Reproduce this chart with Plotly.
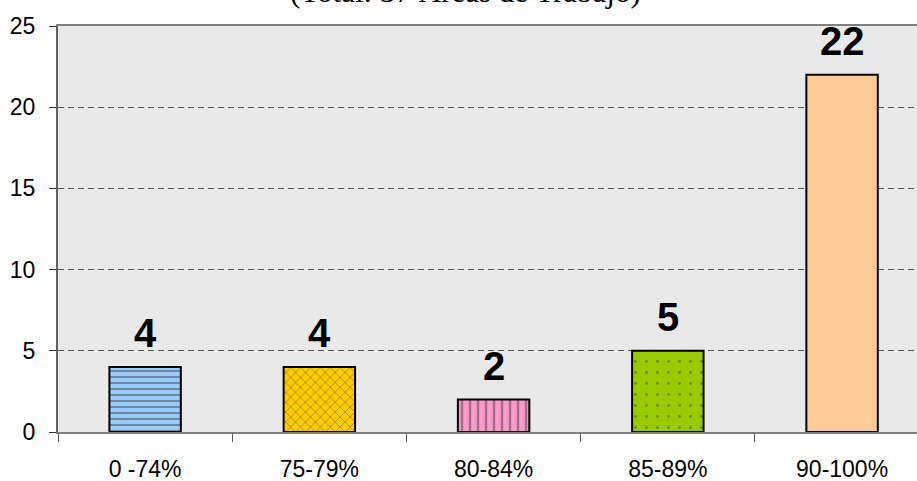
import plotly.graph_objects as go

categories = ["0 -74%", "75-79%", "80-84%", "85-89%", "90-100%"]
values = [4, 4, 2, 5, 22]
colors = ["#99CCFF", "#FFCC00", "#FF99CC", "#99CC00", "#FFCC99"]
patterns = ["-", "x", "|", ".", ""]
pattern_sizes = [6, 7, 8, 11, 8]
pattern_solidity = [0.35, 0.22, 0.3, 0.05, 0.2]
title_text = "(Total: 37 Áreas de Trabajo)"
y_ticks = [0, 5, 10, 15, 20, 25]

fig = go.Figure()
fig.add_trace(go.Bar(
    x=categories,
    y=values,
    marker=dict(
        color=colors,
        line=dict(color="black", width=2),
        pattern=dict(
            shape=patterns,
            size=pattern_sizes,
            solidity=pattern_solidity,
            fgcolor="#222222",
            fillmode="overlay",
        ),
    ),
    hoverinfo="skip",
))

for c, v in zip(categories, values):
    fig.add_annotation(
        x=c, y=v, xref="x", yref="y",
        text="<b>%d</b>" % v,
        showarrow=False,
        yanchor="middle",
        yshift=34,
        font=dict(family="Liberation Sans, Arial", size=40, color="black"),
    )

fig.add_annotation(
    x=0.5, xref="paper", xshift=-22,
    y=1, yref="paper", yanchor="bottom", yshift=15,
    text=title_text, showarrow=False,
    font=dict(family="Liberation Serif, Times New Roman", size=31, color="black"),
)

fig.update_layout(
    width=917, height=481,
    margin=dict(l=58, r=0, t=26, b=49, autoexpand=False),
    paper_bgcolor="white",
    plot_bgcolor="#e9e9e9",
    bargap=0.59,
    showlegend=False,
    font=dict(family="Liberation Sans, Arial", color="black"),
)
fig.update_xaxes(
    range=[-0.5, 4.43], automargin=False,
    showline=True, linecolor="#808080", linewidth=2, mirror=True,
    ticks="outside", tickson="boundaries", ticklen=8, tickcolor="#555555", tickwidth=1,
    tickfont=dict(size=23, color="black"),
    ticklabelstandoff=15,
    showgrid=False, zeroline=False,
)
fig.update_yaxes(
    range=[0, 25], tickvals=y_ticks, automargin=False,
    showline=True, linecolor="#606060", linewidth=2,
    ticks="outside", ticklen=7, tickcolor="#333333", tickwidth=1,
    tickfont=dict(size=23, color="black"),
    ticklabelstandoff=9,
    showgrid=True, gridcolor="#555555", gridwidth=1, griddash="6px,4px",
    zeroline=False,
)

fig.write_html(
    "out.html",
    config={"displayModeBar": False},
    post_script="document.body.style.margin='0';",
)
